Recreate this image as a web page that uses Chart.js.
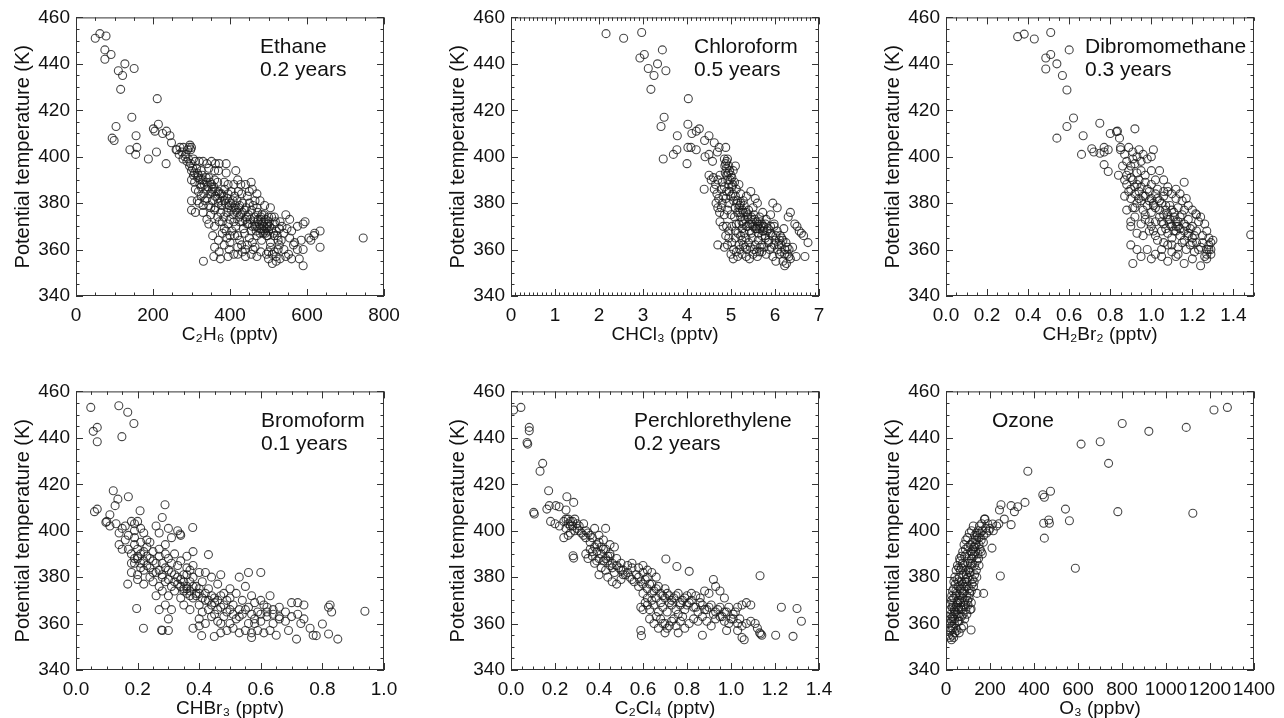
<!DOCTYPE html>
<html>
<head>
<meta charset="utf-8">
<script src="https://cdn.jsdelivr.net/npm/chart.js@4.4.1/dist/chart.umd.min.js"></script>
<style>
  html, body { margin: 0; background: #fff; overflow: hidden; width: 1284px; height: 718px; }
  canvas { position: absolute; }
</style>
</head>
<body>
<script>
// y axis is shared by every panel
const yTicks = [340, 360, 380, 400, 420, 440, 460];

// x tick values per panel
const ethaneTicks = [0, 200, 400, 600, 800];
const chloroformTicks = [0, 1, 2, 3, 4, 5, 6, 7];
const dibromoTicks = [0, 0.2, 0.4, 0.6, 0.8, 1.0, 1.2, 1.4];
const bromoformTicks = [0, 0.2, 0.4, 0.6, 0.8, 1.0];
const perchloroTicks = [0, 0.2, 0.4, 0.6, 0.8, 1.0, 1.2, 1.4];
const ozoneTicks = [0, 200, 400, 600, 800, 1000, 1200, 1400];

// [mixing ratio, potential temperature]
const ethanePts = [
  [50,451],[62,453],[78,452],[75,446],[91,444],[75,442],[127,440],[110,437],[121,435],[151,438],[116,429],[211,425],
  [145,417],[104,413],[156,409],[94,408],[99,407],[140,403],[158,404],[155,401],[188,399],[201,412],[214,414],[205,411],
  [209,402],[234,397],[225,410],[244,409],[235,411],[248,406],[260,403],[270,404],[279,404],[294,404],[298,403],[746,365],
  [262,403],[268,401],[275,402],[283,400],[290,403],[296,405],[300,404],[305,399],[288,398],[278,399],
  [295,396],[300,394],[310,398],[320,398],[330,398],[340,397],[352,398],[362,397],[372,397],[390,397],[370,394],[360,394],[345,395],[325,394],[315,393],[305,392],
  [300,390],[308,389],[316,391],[322,388],[330,390],[338,389],[345,391],[352,388],[360,390],[368,389],[385,389],[395,388],[410,388],[420,390],[428,388],[440,388],[455,389],
  [310,386],[318,385],[325,387],[332,384],[340,386],[348,384],[355,386],[362,383],[370,385],[378,384],[386,386],[395,384],[403,385],[412,383],[422,385],[430,384],[445,383],[458,386],[470,384],[478,381],
  [300,381],[320,380],[335,381],[345,379],[355,381],[362,378],[370,380],[378,379],[386,381],[394,378],[402,380],[410,378],[418,381],[425,379],[433,380],[442,378],[450,380],[460,379],[470,378],[490,379],[505,378],
  [300,377],[310,376],[330,376],[350,375],[360,377],[368,374],[376,376],[384,374],[392,376],[400,373],[408,375],[416,377],[424,374],[432,376],[440,373],[448,375],[456,377],[464,374],[472,376],[480,373],[488,375],[500,374],[515,374],[530,372],[545,375],[555,373],
  [345,371],[360,370],[372,372],[385,369],[395,371],[405,368],[415,370],[425,372],[435,369],[445,371],[455,368],[465,370],[472,372],[478,369],[484,371],[490,368],[496,370],[502,372],[508,369],[515,371],[520,368],[535,370],[548,369],[560,368],[575,370],[590,371],
  [476,371],[482,369],[488,372],[494,369],[498,371],[486,367],[492,367],[480,374],[470,370],[500,368],
  [355,366],[370,364],[380,367],[392,365],[400,363],[412,366],[425,364],[438,367],[450,365],[458,363],[470,366],[482,364],[495,366],[505,363],[515,366],[525,364],[540,367],[555,365],[568,363],[585,364],[605,365],[620,367],[634,368],[634,361],
  [360,361],[372,359],[385,362],[398,360],[410,358],[420,361],[432,359],[445,362],[455,358],[465,361],[480,359],[495,358],[505,361],[515,359],[528,362],[540,360],[552,358],[565,362],[575,360],[590,360],
  [331,355],[358,357],[375,356],[395,357],[420,358],[440,357],[470,357],[500,356],[510,354],[520,355],[530,356],[545,357],[560,356],[580,356],[590,353],
  [595,372],[610,364],[618,366],[390,393],[415,394],[330,379],[340,373],[450,385],[465,381],
  [285,401],[292,399],[298,397],[303,395],[308,393],[313,395],[318,392],[323,390],[328,392],[333,388],[338,391],[343,387],[348,389],[353,385],[358,387],[363,385],
  [368,382],[373,384],[378,381],[383,383],[388,380],[393,382],[398,379],[403,377],[408,381],[413,379],[418,376],[423,378],[428,375],[433,372],[438,377],[443,374],
  [448,371],[453,373],[458,370],[463,372],[468,368],[473,373],[478,367],[483,375],[488,370],[493,373],[498,366],[503,370],[508,374],[513,367],[518,372],[523,366],
  [528,369],[533,364],[420,366],[430,362],[440,360],[460,360],[500,359],[510,358],[520,357],[525,360],[380,372],[390,368],[400,366],[410,372],[350,378],[340,382],[325,383],[315,381]
];

const chloroformPts = [
  [2.16,453],[2.56,451],[2.97,453.5],[2.93,442.5],[3.03,444],[3.12,438],[3.33,440],[3.25,435],[3.44,446],[3.52,437],[3.18,429],[4.03,425],
  [3.48,417],[3.41,413],[3.46,399],[3.69,401],[3.77,403],[3.78,409],[4.02,414],[4.11,410],[4.21,411],[4.28,412],[4.02,404],[4.0,397],
  [4.09,404],[4.21,403],[4.4,407],[4.5,409],[4.62,406],[4.73,404],[4.88,404],[4.69,402],[4.5,401],[4.41,400],[4.58,398],[4.39,386],
  [4.85,399],[4.88,397],[4.9,395],[4.92,399],[4.95,396],[4.87,393],[5.0,392],[5.05,394],[5.1,396],[4.98,390],[4.9,398],[4.94,393],
  [4.5,392],[4.55,390],[4.6,391],[4.65,388],[4.7,390],[4.75,392],[4.8,389],[4.62,386],[4.68,384],[4.72,382],[4.78,386],[4.85,387],[4.9,385],[4.95,388],[5.02,387],[5.08,389],[5.12,386],[5.18,388],[5.22,384],
  [4.7,378],[4.66,380],[4.8,380],[4.88,382],[4.95,380],[5.0,383],[5.06,381],[5.1,378],[5.15,381],[5.2,379],[5.28,381],[5.35,383],[5.45,385],[5.55,382],[5.6,380],[5.5,378],[5.4,377],
  [4.75,372],[4.85,375],[4.92,377],[5.0,375],[5.08,374],[5.15,376],[5.22,374],[5.28,376],[5.32,373],[5.38,375],[5.45,373],[5.52,375],[5.58,372],[5.65,374],[5.72,376],[5.8,373],[5.9,375],[5.95,380],[6.05,378],[5.98,371],
  [4.9,370],[4.95,368],[5.02,370],[5.1,368],[5.18,371],[5.25,369],[5.3,367],[5.38,370],[5.42,368],[5.48,371],[5.55,369],[5.62,367],[5.68,370],[5.72,368],[5.78,371],[5.85,369],[5.9,367],[5.98,370],[6.05,368],[6.12,366],[6.2,369],[6.3,374],[6.35,376],[6.45,371],[6.5,370],[6.55,368],[6.6,367],[6.65,366],[6.75,363],
  [5.65,369],[5.7,371],[5.75,368],[5.6,370],[5.2,376],[5.25,372],[5.35,370],
  [4.95,365],[5.02,363],[5.1,365],[5.18,362],[5.25,364],[5.32,361],[5.4,363],[5.48,365],[5.55,362],[5.62,364],[5.7,362],[5.78,365],[5.85,363],[5.92,361],[6.0,364],[6.08,362],[6.15,365],[6.22,360],[6.28,361],[6.32,360],[6.4,361],[6.25,363],
  [4.7,362],[4.85,361],[5.0,358],[5.05,356],[5.15,357],[5.25,358],[5.35,357],[5.42,356],[5.5,358],[5.6,357],[5.7,359],[5.8,358],[5.88,360],[5.95,357],[6.02,355],[6.1,358],[6.18,355],[6.22,353],[6.26,354],[6.35,356],[6.48,357],[6.68,357],[5.75,361],[5.65,359],
  [4.86,396],[4.9,392],[4.93,390],[4.97,394],[5.02,391],[5.04,388],[4.96,385],[5.04,384],[5.1,383],[5.14,380],[5.18,378],[5.22,380],[5.26,377],[5.3,379],[5.34,376],[5.38,374],
  [5.42,371],[5.46,374],[5.5,370],[5.54,373],[5.58,369],[5.62,371],[5.66,372],[5.7,366],[5.74,370],[5.78,366],[5.82,368],[5.86,364],[5.9,370],[5.94,366],[5.98,362],[6.02,366],
  [6.06,360],[6.1,364],[6.14,362],[6.18,364],[6.22,358],[6.28,358],[6.32,357],[6.14,359],[5.06,360],[5.12,359],[5.2,360],[5.28,362],[5.36,360],[5.44,361],[5.52,360],[5.58,359],
  [5.66,361],[4.82,383],[4.78,378],[4.74,376],[4.82,370],[4.88,366],[4.92,362],[5.12,371],[5.16,367],[5.22,366],[5.28,371],[5.34,365],[5.46,367]
];

const dibromoPts = [
  [0.349,451.7],[0.381,452.8],[0.43,450.7],[0.51,453.5],[0.51,444],[0.486,442.5],[0.486,437.8],[0.54,440],[0.6,446],[0.567,435],[0.589,428.7],
  [0.621,416.7],[0.589,413],[0.54,408],[0.668,409],[0.749,414.4],[0.66,401],[0.71,403.4],[0.72,402],[0.75,401.5],[0.77,404],[0.77,402],
  [0.79,403],[0.77,396.6],[0.79,393.6],[0.8,410],[0.83,410.8],[0.835,411],[0.845,408],[0.92,412],[0.85,404],[1.16,389],[1.484,366.4],[1.216,375.4],
  [0.85,403],[0.87,401],[0.89,404],[0.91,402],[0.93,400],[0.95,398],[0.88,398],[0.86,396],[0.9,396],[0.92,397],[0.96,401],[0.98,399],[1.0,400],
  [0.84,392],[0.88,392],[0.9,391],[0.93,393],[0.95,394],[0.97,392],[1.0,394],[1.02,390],[0.88,388],[0.9,386],[0.93,388],[0.95,387],[0.97,389],[1.0,388],[1.03,386],[1.06,385],[1.08,387],
  [0.87,383],[0.9,382],[0.92,384],[0.95,381],[0.97,383],[1.0,382],[1.02,384],[1.04,381],[1.06,383],[1.1,384],[1.12,382],[1.15,381],
  [0.88,377],[0.91,378],[0.93,380],[0.96,377],[0.98,379],[1.0,376],[1.02,378],[1.05,380],[1.07,377],[1.09,379],[1.11,376],[1.13,378],[1.16,377],[1.18,379],[1.22,375],
  [0.9,372],[0.92,374],[0.95,371],[0.97,373],[1.0,370],[1.02,372],[1.04,374],[1.06,371],[1.08,373],[1.1,370],[1.12,372],[1.14,374],[1.16,371],[1.18,373],[1.2,370],[1.23,372],[1.26,371],
  [1.07,369],[1.09,371],[1.11,368],[1.13,370],[1.05,372],[0.99,385],[1.01,380],
  [0.9,370],[0.93,367],[0.96,366],[0.99,368],[1.02,366],[1.05,368],[1.08,367],[1.1,365],[1.12,368],[1.14,366],[1.16,364],[1.18,367],[1.2,365],[1.22,368],[1.25,366],[1.28,365],[1.3,364],
  [0.9,362],[0.93,360],[0.98,360],[1.02,358],[1.05,360],[1.08,362],[1.1,359],[1.13,361],[1.15,363],[1.17,360],[1.19,362],[1.21,359],[1.24,361],[1.27,360],[1.29,358],[1.26,357],
  [0.91,354],[0.95,357],[1.0,356],[1.05,357],[1.08,355],[1.12,357],[1.16,354],[1.2,356],[1.24,353],[1.27,356],[1.29,360],[1.28,362],
  [0.89,394],[0.91,390],[0.92,387],[0.94,385],[0.94,390],[0.96,383],[0.98,386],[0.99,381],[1.01,379],[1.03,382],[1.04,377],[1.06,375],[1.07,379],[1.08,375],[1.09,373],[1.1,377],
  [1.11,374],[1.12,370],[1.13,372],[1.14,369],[1.15,375],[1.16,368],[1.17,370],[1.18,366],[1.19,369],[1.2,363],[1.21,366],[1.22,363],[1.23,360],[1.25,363],[1.27,358],[1.28,360],
  [1.29,363],[0.97,375],[0.99,372],[1.01,368],[1.03,364],[1.06,363],[1.1,362],[1.13,358],[0.92,378],[0.94,382],[0.89,385],[0.87,390],[0.91,399],[0.94,403],[1.01,403],[1.04,394],
  [1.06,390],[1.08,385],[1.12,386],[1.14,384],[1.17,382],[1.2,377],[1.24,374],[1.27,368]
];

const bromoformPts = [
  [0.048,453.1],[0.056,442.8],[0.069,444.5],[0.069,438.3],[0.139,453.8],[0.168,451],[0.188,446.2],[0.149,440.5],[0.121,417.2],[0.17,414.6],
  [0.136,413.6],[0.06,408.2],[0.069,409.3],[0.127,410.8],[0.097,403.6],[0.11,406.9],[0.289,411.2],[0.28,405.7],[0.208,408.6],[0.379,401.4],
  [0.43,389.7],[0.338,398.6],[0.938,365.3],[0.85,353.3],[0.82,355.5],[0.8,359.8],[0.825,368],[0.82,367],[0.83,365],[0.78,354.8],[0.716,353.3],
  [0.57,354],[0.449,354.4],[0.408,354.8],[0.278,357.2],[0.219,358],[0.197,366.5],[0.168,377],
  [0.1,404],[0.11,402],[0.13,403],[0.15,401],[0.14,399],[0.16,402],[0.18,404],[0.19,403],[0.2,404],[0.21,401],[0.17,398],[0.19,397],[0.14,394],[0.15,392],
  [0.22,399],[0.23,396],[0.26,402],[0.27,399],[0.3,401],[0.33,400],[0.34,398],[0.31,397],[0.24,395],[0.29,394],
  [0.18,390],[0.2,389],[0.22,391],[0.24,388],[0.18,386],[0.19,388],[0.21,386],[0.23,385],[0.25,387],[0.27,389],[0.28,386],[0.3,388],[0.32,390],[0.34,387],[0.36,389],[0.38,391],[0.33,385],[0.36,384],[0.38,385],
  [0.18,382],[0.2,381],[0.22,383],[0.24,380],[0.26,382],[0.28,380],[0.3,383],[0.32,381],[0.34,379],[0.36,381],[0.38,380],[0.4,382],[0.42,382],[0.44,380],[0.47,381],
  [0.2,379],[0.22,377],[0.25,378],[0.27,376],[0.29,378],[0.31,376],[0.33,377],[0.35,375],[0.37,378],[0.39,376],[0.41,378],[0.43,375],[0.46,377],[0.5,375],[0.53,380],[0.56,382],[0.6,382],[0.55,376],
  [0.26,372],[0.28,374],[0.3,372],[0.32,374],[0.34,371],[0.36,373],[0.38,371],[0.4,373],[0.42,370],[0.44,372],[0.46,370],[0.48,373],[0.5,371],[0.52,373],[0.54,370],[0.57,372],[0.6,370],[0.63,372],[0.58,369],[0.62,367],
  [0.35,374],[0.37,372],[0.39,373],[0.36,376],[0.2,388],[0.19,386],[0.21,384],
  [0.29,368],[0.31,366],[0.35,368],[0.37,366],[0.4,368],[0.43,366],[0.45,369],[0.47,367],[0.49,365],[0.51,368],[0.53,366],[0.56,367],[0.59,365],[0.61,368],[0.64,366],[0.66,367],[0.68,365],[0.7,369],[0.72,369],[0.74,368],[0.27,366],
  [0.3,362],[0.4,362],[0.42,360],[0.44,363],[0.46,361],[0.48,363],[0.5,360],[0.52,362],[0.54,364],[0.56,360],[0.58,362],[0.6,361],[0.62,363],[0.64,360],[0.66,362],[0.68,361],[0.7,363],[0.72,364],[0.74,362],[0.76,358],[0.73,360],
  [0.28,357],[0.3,357],[0.38,358],[0.4,359],[0.47,356],[0.49,357],[0.51,358],[0.53,356],[0.55,357],[0.57,356],[0.59,357],[0.61,356],[0.63,357],[0.65,355],[0.69,357],[0.77,355],
  [0.17,392],[0.19,394],[0.2,392],[0.21,390],[0.22,387],[0.23,389],[0.24,384],[0.25,382],[0.26,386],[0.27,383],[0.28,381],[0.29,384],[0.3,379],[0.31,382],[0.32,378],[0.33,380],
  [0.34,376],[0.35,378],[0.36,375],[0.37,374],[0.38,376],[0.39,372],[0.4,375],[0.41,371],[0.42,373],[0.43,370],[0.44,368],[0.45,371],[0.46,366],[0.47,372],[0.48,368],[0.49,370],
  [0.5,366],[0.51,364],[0.53,363],[0.55,366],[0.57,364],[0.58,360],[0.6,364],[0.62,365],[0.64,364],[0.66,363],[0.35,381],[0.37,383],[0.31,386],[0.29,390],[0.27,392],[0.25,391],
  [0.23,393],[0.21,395],[0.19,400],[0.16,396],[0.41,365],[0.45,364],[0.47,360]
];

const perchloroPts = [
  [0.012,452],[0.045,453.1],[0.083,444.5],[0.083,443],[0.073,438],[0.076,437.3],[0.144,429],[0.132,425.6],[0.171,417.2],[0.254,414.6],[0.285,412.2],
  [0.25,408.9],[0.103,407.9],[0.106,407.2],[0.174,410.8],[0.204,410.8],[0.219,410.3],[0.163,409.3],[0.282,389.2],[0.285,388.2],[0.59,357],[0.593,354.8],
  [0.704,387.8],[0.754,384.6],[0.81,382.5],[1.132,380.6],[1.229,367],[1.3,366.5],[1.32,361],[1.203,355],[1.282,354.5],[1.135,355.5],
  [0.18,404],[0.2,403],[0.22,402],[0.24,404],[0.25,405],[0.26,403],[0.27,402],[0.28,404],[0.29,405],[0.3,403],[0.31,402],[0.25,401],[0.27,399],[0.24,397],[0.26,398],[0.29,400],
  [0.33,403],[0.34,400],[0.35,399],[0.36,398],[0.38,401],[0.4,398],[0.42,396],[0.43,401],[0.4,395],[0.38,393],[0.36,392],[0.34,390],[0.35,388],[0.37,389],[0.39,391],[0.41,393],[0.43,392],[0.45,394],[0.47,393],
  [0.38,386],[0.4,388],[0.42,387],[0.44,389],[0.46,386],[0.48,388],[0.5,386],[0.41,384],[0.43,383],[0.45,385],[0.47,382],[0.49,384],[0.51,383],[0.53,385],[0.55,386],
  [0.4,381],[0.44,380],[0.46,378],[0.48,377],[0.5,379],[0.52,381],[0.54,380],[0.56,378],[0.58,380],[0.6,382],[0.62,380],[0.55,384],[0.58,384],[0.6,385],[0.62,383],[0.64,382],[0.66,380],
  [0.58,376],[0.6,377],[0.62,375],[0.64,377],[0.66,375],[0.68,373],[0.7,375],[0.72,372],[0.6,373],[0.62,371],[0.64,373],[0.66,371],[0.68,369],[0.7,371],[0.72,369],[0.74,371],[0.76,373],[0.78,370],[0.8,372],[0.82,373],[0.84,372],[0.86,371],[0.88,374],[0.9,373],[0.92,379],[0.93,376],[0.95,374],[0.97,371],
  [0.59,367],[0.61,369],[0.63,366],[0.65,368],[0.67,365],[0.69,367],[0.71,365],[0.73,368],[0.75,366],[0.77,368],[0.79,366],[0.81,369],[0.83,367],[0.85,365],[0.87,368],[0.89,366],[0.91,368],[0.93,365],[0.95,367],[0.97,365],[0.99,367],[1.01,364],[1.03,367],[1.05,368],[1.07,369],[1.09,368],
  [0.63,362],[0.65,360],[0.67,358],[0.69,360],[0.71,358],[0.73,361],[0.75,359],[0.77,361],[0.79,358],[0.81,360],[0.83,362],[0.85,361],[0.87,363],[0.89,361],[0.91,359],[0.93,362],[0.95,363],[0.97,361],[0.99,360],[1.01,362],[1.03,360],[1.05,359],[1.07,360],[1.09,361],[1.11,360],[1.12,358],
  [0.7,356],[0.76,356],[0.87,355],[0.98,357],[1.03,357],[1.05,354],[1.06,353],[1.13,356],[1.14,355],
  [0.26,405],[0.28,402],[0.3,401],[0.32,399],[0.34,397],[0.36,395],[0.37,397],[0.39,394],[0.41,390],[0.42,392],[0.44,387],[0.45,389],[0.46,384],[0.48,385],[0.5,383],[0.51,381],
  [0.53,382],[0.55,379],[0.57,381],[0.59,378],[0.61,379],[0.63,377],[0.65,374],[0.67,376],[0.69,372],[0.71,373],[0.73,370],[0.75,372],[0.77,369],[0.79,371],[0.8,368],[0.82,370],
  [0.84,367],[0.86,369],[0.88,366],[0.9,367],[0.92,364],[0.94,366],[0.96,363],[0.98,365],[1.0,362],[1.02,365],[1.04,362],[0.66,363],[0.68,362],[0.7,360],[0.72,359],[0.74,362],
  [0.76,364],[0.78,363],[0.6,366],[0.62,368],[0.64,370],[0.45,390],[0.43,388],[0.39,387],[0.37,391],[0.33,398],[0.31,400],[0.27,404]
];

const ozonePts = [
  [1279,453.1],[1218,452],[1092,444.5],[922,442.8],[801,446.2],[701,438.3],[614,437.3],[739,429],[372,425.6],[475,417],[440,415.5],[447,414.4],
  [359,412.2],[296,410.8],[326,410.3],[311,408.2],[250,411.2],[243,408.9],[543,409.3],[781,408.2],[1122,407.5],[561,404.3],[467,404.6],[470,403.2],
  [444,403.2],[447,396.8],[588,383.8],[247,380.5],[296,402.6],[265,405],[212,402.9],[177,405],[209,392.5],[141,373],[171,373],[114,366.3],[114,357.2],
  [25,353],[30,355],[35,354],[40,356],[45,358],[20,357],[28,359],[38,360],[50,357],[60,356],[70,358],[80,359],
  [22,362],[30,363],[40,362],[50,364],[60,361],[70,363],[85,362],[95,364],[18,366],[28,367],[38,366],[48,368],[58,366],[68,367],[78,368],[90,366],[100,368],[110,366],
  [25,370],[35,371],[45,372],[55,370],[65,372],[75,371],[85,370],[95,372],[105,371],[115,369],[35,375],[45,374],[55,376],[65,375],[75,377],[85,374],[95,376],[105,375],[115,374],[125,376],
  [50,379],[60,380],[70,378],[80,381],[90,379],[100,380],[110,382],[120,379],[130,381],[140,380],[70,384],[80,385],[90,383],[100,386],[110,384],[120,386],[130,385],[140,387],[150,385],
  [85,389],[95,390],[105,388],[115,391],[125,389],[135,391],[145,390],[155,392],[165,390],[110,394],[120,395],[130,393],[140,396],[150,394],[160,396],[170,395],
  [130,398],[140,399],[150,397],[165,400],[180,401],[190,403],[200,401],[215,400],[175,405],[230,402],[240,403],
  [15,360],[22,364],[32,368],[42,377],[62,388],[30,358],[55,361],[65,383],[75,386],[88,392],[100,393],[120,390],[48,373],[58,378],
  [12,355],[18,354],[22,358],[26,361],[32,362],[36,364],[42,365],[46,367],[52,369],[56,367],[62,370],[66,369],[72,374],[76,373],[82,376],[86,378],
  [92,381],[96,378],[102,383],[106,382],[112,386],[116,388],[122,392],[126,393],[132,396],[136,394],[142,398],[146,400],[152,402],[156,399],[162,403],[20,368],
  [26,372],[30,374],[36,378],[40,380],[46,383],[52,385],[58,384],[64,387],[70,389],[76,391],[82,394],[90,396],[98,397],[106,399],[116,400],[124,402],
  [60,363],[70,366],[78,364],[88,368],[98,370],[108,373],[118,377],[128,378],[138,383],[148,388],[160,391],[172,398],[185,399],[195,400]
];

// frame with inward major/minor ticks on all four sides, plus the panel caption
const frameTicks = {
  id: 'frameTicks',
  afterDraw(chart, args, opts) {
    const { ctx, chartArea: a, scales: { x, y } } = chart;
    ctx.save();
    ctx.strokeStyle = '#333';
    ctx.lineWidth = 1;
    ctx.strokeRect(a.left + 0.5, a.top + 0.5, a.right - a.left - 1, a.bottom - a.top - 1);
    ctx.beginPath();
    const nx = Math.round((x.max - x.min) / opts.xMinor);
    for (let i = 0; i <= nx; i++) {
      const v = x.min + i * opts.xMinor;
      const r = v / opts.xMajor;
      const len = Math.abs(r - Math.round(r)) < 1e-6 ? 7 : 3.5;
      const px = Math.round(x.getPixelForValue(v)) + 0.5;
      ctx.moveTo(px, a.bottom); ctx.lineTo(px, a.bottom - len);
      ctx.moveTo(px, a.top); ctx.lineTo(px, a.top + len);
    }
    const ny = Math.round((y.max - y.min) / 5);
    for (let i = 0; i <= ny; i++) {
      const v = y.min + i * 5;
      const len = v % 20 === 0 ? 7 : 3.5;
      const py = Math.round(y.getPixelForValue(v)) + 0.5;
      ctx.moveTo(a.left, py); ctx.lineTo(a.left + len, py);
      ctx.moveTo(a.right, py); ctx.lineTo(a.right - len, py);
    }
    ctx.stroke();
    ctx.fillStyle = '#111';
    ctx.font = '21px "Liberation Sans", Arial, sans-serif';
    ctx.textBaseline = 'alphabetic';
    opts.lines.forEach((t, i) => ctx.fillText(t, a.left + opts.dx, a.top + 36 + i * 23));
    ctx.restore();
  }
};

const panels = [
  { pts: ethanePts, ticks: ethaneTicks, max: 800, dec: 0, minor: 50, major: 200, title: 'C₂H₆ (pptv)', lines: ['Ethane', '0.2 years'], dx: 184, left: 0, top: 0 },
  { pts: chloroformPts, ticks: chloroformTicks, max: 7, dec: 0, minor: 0.1, major: 1, title: 'CHCl₃ (pptv)', lines: ['Chloroform', '0.5 years'], dx: 183, left: 435, top: 0 },
  { pts: dibromoPts, ticks: dibromoTicks, max: 1.5, dec: 1, minor: 0.05, major: 0.2, title: 'CH₂Br₂ (pptv)', lines: ['Dibromomethane', '0.3 years'], dx: 139, left: 870, top: 0 },
  { pts: bromoformPts, ticks: bromoformTicks, max: 1.0, dec: 1, minor: 0.05, major: 0.2, title: 'CHBr₃ (pptv)', lines: ['Bromoform', '0.1 years'], dx: 185, left: 0, top: 374 },
  { pts: perchloroPts, ticks: perchloroTicks, max: 1.4, dec: 1, minor: 0.05, major: 0.2, title: 'C₂Cl₄ (pptv)', lines: ['Perchlorethylene', '0.2 years'], dx: 123, left: 435, top: 374 },
  { pts: ozonePts, ticks: ozoneTicks, max: 1400, dec: 0, minor: 50, major: 200, title: 'O₃ (ppbv)', lines: ['Ozone'], dx: 46, left: 870, top: 374 }
];

const FONT = '"Liberation Sans", Arial, Helvetica, sans-serif';
const W = 414, H = 346;

panels.forEach(p => {
  const cv = document.createElement('canvas');
  cv.width = W; cv.height = H;
  cv.style.left = p.left + 'px';
  cv.style.top = p.top + 'px';
  document.body.appendChild(cv);

  new Chart(cv, {
    type: 'scatter',
    data: {
      datasets: [{
        data: p.pts.map(([x, y]) => ({ x, y })),
        pointStyle: 'circle',
        pointRadius: 4,
        borderWidth: 1.1,
        borderColor: 'rgba(25,25,25,0.8)',
        backgroundColor: 'rgba(0,0,0,0)'
      }]
    },
    options: {
      responsive: false,
      animation: false,
      devicePixelRatio: 1,
      events: [],
      layout: { padding: { top: 17, right: 30, left: 0, bottom: 0 } },
      plugins: {
        legend: { display: false },
        tooltip: { enabled: false },
        frameTicks: { xMinor: p.minor, xMajor: p.major, lines: p.lines, dx: p.dx }
      },
      scales: {
        x: {
          type: 'linear', min: 0, max: p.max,
          afterBuildTicks: s => { s.ticks = p.ticks.map(v => ({ value: v })); },
          afterFit: s => { s.height = H - 17 - 279; },
          grid: { display: false, drawTicks: false },
          border: { display: false },
          ticks: {
            autoSkip: false, maxRotation: 0, minRotation: 0, padding: 8,
            color: '#111', font: { family: FONT, size: 19 },
            callback: v => Number(v).toFixed(p.dec)
          },
          title: { display: true, text: p.title, color: '#111', font: { family: FONT, size: 19 }, padding: { top: 0, bottom: 0 } }
        },
        y: {
          type: 'linear', min: 340, max: 460,
          afterBuildTicks: s => { s.ticks = yTicks.map(v => ({ value: v })); },
          afterFit: s => { s.width = 76; },
          grid: { display: false, drawTicks: false },
          border: { display: false },
          ticks: { padding: 6, color: '#111', font: { family: FONT, size: 19 }, callback: v => String(v) },
          title: { display: true, text: 'Potential temperature (K)', color: '#111', font: { family: FONT, size: 20 }, padding: { top: 11, bottom: 0 } }
        }
      }
    },
    plugins: [frameTicks]
  });
});
</script>
</body>
</html>
